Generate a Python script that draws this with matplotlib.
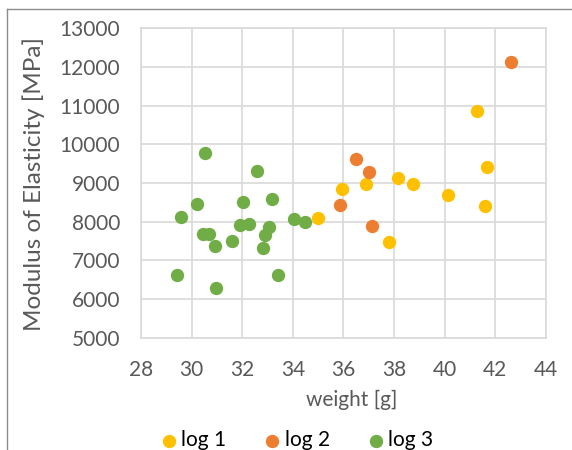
import matplotlib.pyplot as plt
from matplotlib.lines import Line2D

# weight [g] and modulus of elasticity [MPa] per log
log1_weight = [41.29, 41.66, 38.17, 38.74, 36.87, 35.93, 40.11, 41.60, 34.99, 37.79]
log1_mod = [10860, 9410, 9120, 8980, 8980, 8845, 8690, 8400, 8105, 7485]

log2_weight = [42.61, 36.50, 37.00, 35.88, 37.14]
log2_mod = [12130, 9620, 9275, 8430, 7880]

log3_weight = [30.53, 32.57, 30.23, 32.04, 33.18, 29.58, 31.91, 32.28, 33.05, 34.03,
               34.47, 30.46, 30.70, 32.91, 30.92, 31.58, 32.83, 29.41, 33.40, 30.96]
log3_mod = [9768, 9311, 8465, 8517, 8587, 8113, 7923, 7932, 7863, 8062,
            8000, 7682, 7673, 7656, 7372, 7510, 7320, 6622, 6631, 6278]

x_ticks = [28, 30, 32, 34, 36, 38, 40, 42, 44]
y_ticks = [5000, 6000, 7000, 8000, 9000, 10000, 11000, 12000, 13000]

plt.rcParams["font.family"] = ["Lato", "DejaVu Sans"]

fig = plt.figure(figsize=(5.72, 4.5), dpi=100)
ax = fig.add_axes([0.2465, 0.2496, 0.708, 0.6874])

dot = 92
ax.scatter(log1_weight, log1_mod, s=dot, color="#FFC000", label="log 1", zorder=3, linewidths=0)
ax.scatter(log2_weight, log2_mod, s=dot, color="#ED7D31", label="log 2", zorder=3, linewidths=0)
ax.scatter(log3_weight, log3_mod, s=dot, color="#70AD47", label="log 3", zorder=3, linewidths=0)

ax.set_xlim(28, 44)
ax.set_ylim(5000, 13000)
ax.set_xticks(x_ticks)
ax.set_yticks(y_ticks)
ax.grid(True, color="#D9D9D9", linewidth=1.2)
ax.set_axisbelow(True)
for s in ax.spines.values():
    s.set_color("#D9D9D9")
    s.set_linewidth(1.2)
ax.tick_params(axis="both", length=0, labelsize=15, colors="#595959")
ax.tick_params(axis="y", pad=15)
ax.tick_params(axis="x", pad=16)

# axis titles
fig.text(34 / 572, 1 - 184.5 / 450, "Modulus of Elasticity [MPa]", rotation=90,
         ha="center", va="center", fontsize=17.5, color="#595959")
fig.text(352 / 572, 1 - 400 / 450, "weight [g]", ha="center", va="center",
         fontsize=15, color="#595959")

# chart frame, partly cut off
fig.add_artist(Line2D([0.0128, 1.0], [0.979, 0.979], color="#8C8C8C", linewidth=1))
fig.add_artist(Line2D([0.0128, 0.0128], [0.0, 0.979], color="#8C8C8C", linewidth=1))

fig.legend(loc="center", bbox_to_anchor=(0.5175, 0.022), ncol=3, frameon=False,
           fontsize=15, handletextpad=0.1, columnspacing=1.7, markerscale=1.0,
           handlelength=1.0, labelcolor="#000000")

fig.savefig("out.png", dpi=100)
